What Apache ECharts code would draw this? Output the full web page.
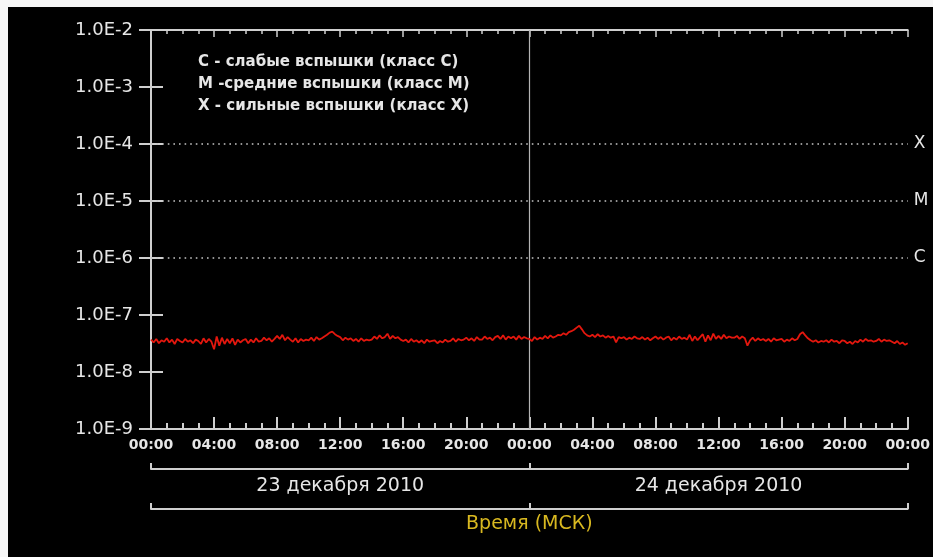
<!DOCTYPE html>
<html>
<head>
<meta charset="utf-8">
<title>Рентгеновский поток</title>
<script src="https://cdn.jsdelivr.net/npm/echarts@6/dist/echarts.min.js"></script>
<style>
	html,body{margin:0;padding:0;background:#f7f7f7;}
	#chart{position:absolute;left:8px;top:7px;width:925px;height:550px;background:#000;}
</style>
</head>
<body>
<div id="chart"></div>
<script>
// поток, единицы 1e-8, шаг 10 минут, 23-24 декабря 2010
var fluxDay1 = [
	3.7,3.3,3.8,3.2,3.6,3.4, 3.9,3.3,3.7,3.1,3.8,3.5, 3.3,3.8,3.4,3.6,3.2,3.7,
	3.5,3.1,3.9,3.3,3.8,3.4, 2.5,4.2,2.9,4.0,3.1,3.8, 3.2,3.9,3.0,3.7,3.3,3.6,
	3.8,3.2,3.7,3.3,3.9,3.4, 3.5,4.0,3.6,3.9,3.4,3.8, 4.3,3.8,4.5,3.6,4.1,3.7,
	3.4,3.9,3.3,3.8,3.5,3.7, 3.6,4.0,3.5,4.1,3.7,3.9, 4.2,4.5,4.9,5.1,4.6,4.3,
	4.1,3.6,4.0,3.7,3.9,3.5, 3.8,3.4,3.9,3.5,3.7,3.6, 3.7,4.2,3.8,4.4,3.9,4.1,
	4.7,3.8,4.3,3.9,4.1,3.7, 3.5,3.7,3.3,3.8,3.4,3.6, 3.3,3.6,3.2,3.7,3.4,3.5,
	3.6,3.2,3.5,3.3,3.7,3.4, 3.5,3.9,3.4,3.8,3.6,3.7, 4.0,3.6,3.9,3.5,4.1,3.7,
	3.7,4.2,3.8,4.0,3.6,4.1, 4.3,3.8,4.4,3.7,4.2,3.9, 4.2,3.7,4.3,3.8,4.1,3.9
];
var fluxDay2 = [
	3.8,3.5,4.1,3.7,4.0,3.8, 4.3,3.9,4.4,4.0,4.2,4.5, 4.4,4.8,4.5,5.0,5.2,5.5,
	6.0,6.5,5.6,4.8,4.4,4.2, 4.5,4.1,4.6,4.2,4.4,4.0, 4.3,4.0,4.2,3.3,4.1,3.9,
	4.1,3.7,4.0,3.8,4.2,3.9, 3.8,4.1,3.7,4.0,3.6,3.9, 4.2,3.8,4.1,3.7,4.0,4.2,
	3.6,4.0,3.7,4.2,3.8,4.0, 3.7,4.5,3.5,4.2,3.6,4.1, 4.6,3.4,4.4,3.6,4.7,3.8,
	4.3,3.8,4.5,3.9,4.2,4.0, 4.0,4.3,3.8,4.2,3.9,2.9, 3.6,4.0,3.5,3.9,3.6,3.8,
	3.5,3.8,3.4,3.9,3.6,3.7, 3.8,3.4,3.7,3.5,3.9,3.6, 3.8,4.6,5.0,4.4,3.9,3.6,
	3.4,3.6,3.3,3.5,3.4,3.6, 3.3,3.7,3.4,3.5,3.2,3.6, 3.5,3.2,3.4,3.1,3.5,3.3,
	3.7,3.4,3.8,3.5,3.6,3.4, 3.5,3.8,3.4,3.7,3.5,3.6, 3.4,3.2,3.5,3.1,3.3,3.0,
	3.2
];
var dayLabels = ['23 декабря 2010', '24 декабря 2010'];
var classLevels = [1e-4, 1e-5, 1e-6];
var classNames = ['X', 'M', 'C'];
var legendLines = [
	'С - слабые вспышки (класс С)',
	'М -средние вспышки (класс М)',
	'Х - сильные вспышки (класс Х)'
];

var AXIS = '#cfcfcf', TXT = '#e6e6e6', FONT = 'DejaVu Sans';
var STEP = 1/6, HOURS = 48;

function buildSeriesData(){
	var all = fluxDay1.concat(fluxDay2), out = [];
	for(var i=0;i<all.length;i++){
		out.push([i*STEP, all[i]*1e-8]);
	}
	return out;
}

function hourLabel(v){
	var h = v % 24;
	return (h<10?'0':'')+h+':00';
}

// вертикаль на смене суток + пунктир по уровням классов
var markLines = [{xAxis:24, lineStyle:{color:'#b4b4b4', width:1.2, type:'solid'}}];
classLevels.forEach(function(l){
	markLines.push([
		{coord:[0, l], lineStyle:{color:'#c4c4c4', width:1.6, type:[1.6,4]}},
		{coord:[HOURS, l]}
	]);
});

var graphics = legendLines.map(function(t, i){
	return {type:'text', x:190, y:55 + i*22, silent:true,
		style:{text:t, fill:TXT, font:'bold 15px "'+FONT+'"', verticalAlign:'middle'}};
});

function bracketAxis(offset, showLabel){
	return {type:'category', data:dayLabels, position:'bottom', offset:offset, boundaryGap:true,
		axisLine:{show:true, lineStyle:{color:AXIS, width:2}},
		axisTick:{show:true, interval:0, inside:true, length:6, alignWithLabel:false, lineStyle:{color:AXIS, width:2}},
		axisLabel:{show:showLabel, interval:0, color:TXT, fontFamily:FONT, fontSize:19, margin:8},
		splitLine:{show:false}};
}

var timeAxis = bracketAxis(80, false);
timeAxis.name = 'Время (МСК)';
timeAxis.nameLocation = 'middle';
timeAxis.nameGap = 6;
timeAxis.nameTextStyle = {color:'#d8b820', fontFamily:FONT, fontSize:19, verticalAlign:'top'};

var chart = echarts.init(document.getElementById('chart'));
chart.setOption({
	backgroundColor:'#000',
	animation:false,
	grid:{left:143, right:25, top:23, bottom:128},
	xAxis:[
		{type:'value', min:0, max:HOURS, interval:4, position:'bottom',
			axisLine:{lineStyle:{color:AXIS, width:2}},
			axisTick:{inside:true, length:12, lineStyle:{color:AXIS, width:2}},
			minorTick:{show:true, splitNumber:4, length:6, lineStyle:{color:AXIS, width:2}},
			axisLabel:{formatter:hourLabel, color:TXT, fontFamily:FONT, fontWeight:'bold', fontSize:14, margin:9},
			splitLine:{show:false}},
		{type:'value', min:0, max:HOURS, interval:4, position:'top',
			axisLine:{lineStyle:{color:AXIS, width:2}},
			axisTick:{inside:true, length:7, lineStyle:{color:AXIS, width:1.5}},
			minorTick:{show:true, splitNumber:4, length:4, lineStyle:{color:AXIS, width:1.5}},
			axisLabel:{show:false}, splitLine:{show:false}},
		bracketAxis(40, true),
		timeAxis
	],
	yAxis:[
		{type:'log', logBase:10, min:1e-9, max:1e-2, interval:1, position:'left',
			axisLine:{show:true, lineStyle:{color:AXIS, width:2}},
			axisTick:{show:true, inside:true, length:12, lineStyle:{color:AXIS, width:2}},
			axisLabel:{color:TXT, fontFamily:FONT, fontSize:18, margin:18,
				formatter:function(v){ return '1.0E'+Math.round(Math.log10(v)); }},
			splitLine:{show:false}},
		{type:'log', logBase:10, min:1e-9, max:1e-2, interval:1, position:'right',
			axisLine:{show:true, lineStyle:{color:AXIS, width:2}},
			axisTick:{show:true, inside:true, length:12, lineStyle:{color:AXIS, width:2}},
			axisLabel:{color:TXT, fontFamily:FONT, fontSize:17, margin:6,
				formatter:function(v){
					var e = Math.round(Math.log10(v));
					for(var i=0;i<classLevels.length;i++){
						if(Math.round(Math.log10(classLevels[i]))===e) return classNames[i];
					}
					return '';
				}},
			splitLine:{show:false}}
	],
	graphic:graphics,
	series:[{
		type:'line', xAxisIndex:0, yAxisIndex:0,
		data:buildSeriesData(),
		showSymbol:false,
		lineStyle:{color:'#e3170e', width:1.8},
		markLine:{silent:true, symbol:'none', label:{show:false}, data:markLines},
		z:5
	}]
});
</script>
</body>
</html>
